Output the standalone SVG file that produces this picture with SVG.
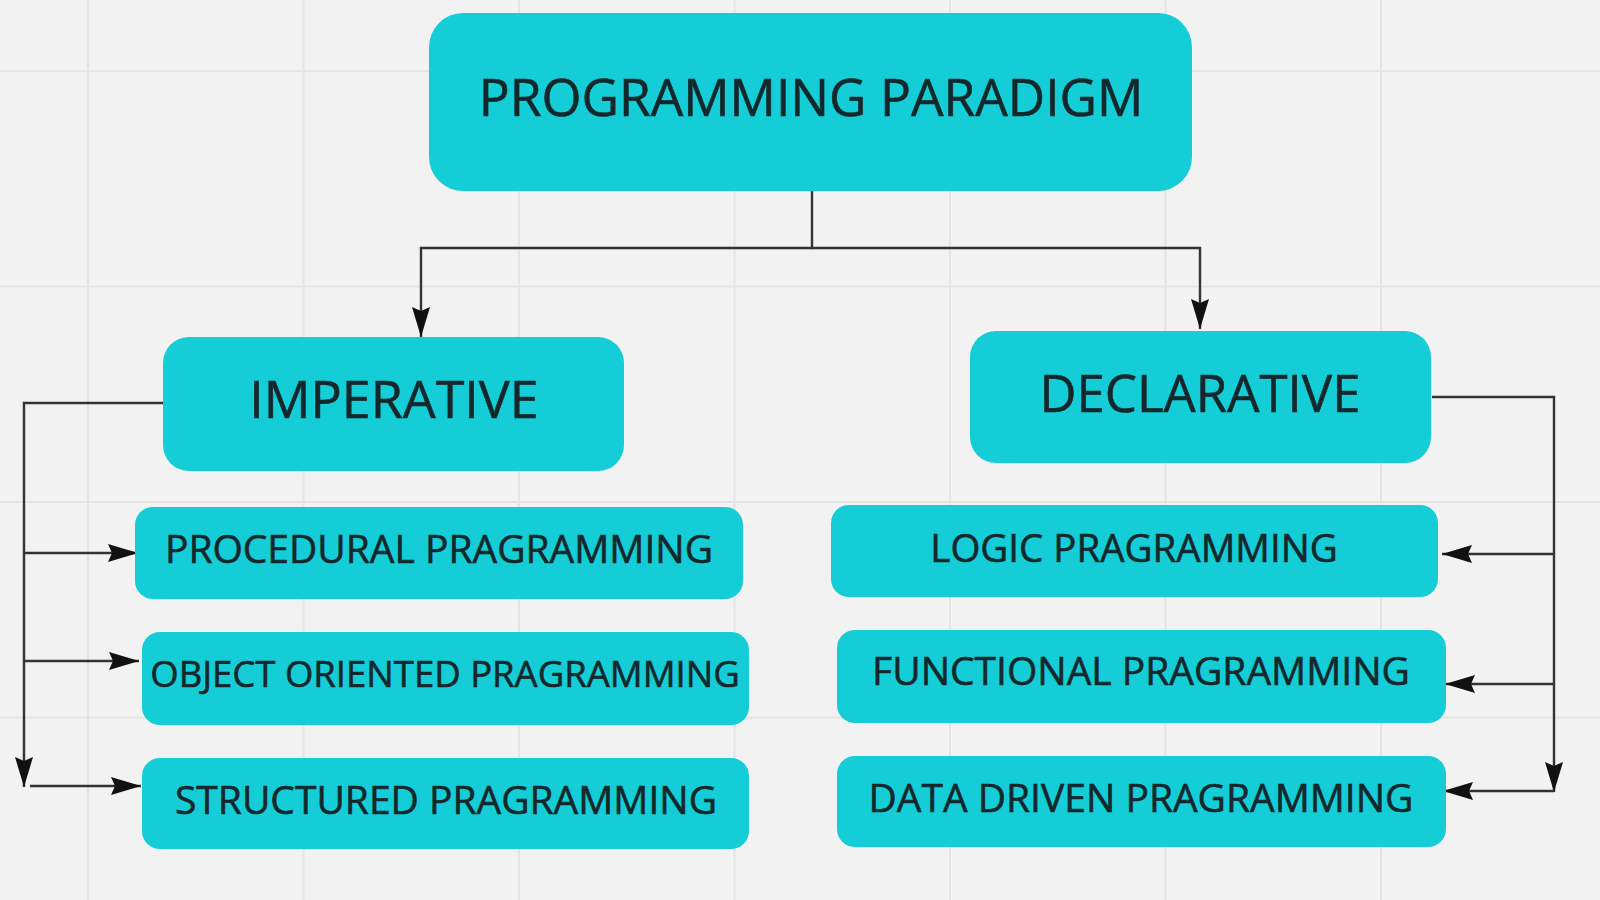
<svg xmlns="http://www.w3.org/2000/svg" width="1600" height="900" viewBox="0 0 1600 900">
  <style>
    .bg { fill: #f2f2f2; }
    .grid line { stroke: #e4e4e4; stroke-width: 2; }
    .node rect { fill: #14cdd6; }
    .node text { font-family: "Open Sans", "Liberation Sans", sans-serif; fill: #14282b; stroke: #14282b; stroke-width: 0.6; text-anchor: middle; }
    .big { font-size: 52px; }
    .small { font-size: 39px; }
    .conn path { fill: none; stroke: #333333; stroke-width: 2.4; }
  </style>
  <defs>
    <marker id="arrow" viewBox="0 0 30 18" markerWidth="30" markerHeight="18" markerUnits="userSpaceOnUse" refX="30" refY="9" orient="auto">
      <path d="M0,0 L30,9 L0,18 L4,9 Z" fill="#111"/>
    </marker>
  </defs>
  <rect class="bg" x="0" y="0" width="1600" height="900"/>
  <g class="grid">
    <line x1="88" y1="0" x2="88" y2="900"/>
    <line x1="303.5" y1="0" x2="303.5" y2="900"/>
    <line x1="519" y1="0" x2="519" y2="900"/>
    <line x1="734.5" y1="0" x2="734.5" y2="900"/>
    <line x1="950" y1="0" x2="950" y2="900"/>
    <line x1="1165.5" y1="0" x2="1165.5" y2="900"/>
    <line x1="1381" y1="0" x2="1381" y2="900"/>
    <line x1="0" y1="71" x2="1600" y2="71"/>
    <line x1="0" y1="286.5" x2="1600" y2="286.5"/>
    <line x1="0" y1="502" x2="1600" y2="502"/>
    <line x1="0" y1="717.5" x2="1600" y2="717.5"/>
  </g>
  <g class="conn">
    <path d="M812,191 V248 H421 V337" marker-end="url(#arrow)"/>
    <path d="M812,248 H1200 V329" marker-end="url(#arrow)"/>
    <path d="M163,403 H24 V787" marker-end="url(#arrow)"/>
    <path d="M24,553 H138" marker-end="url(#arrow)"/>
    <path d="M24,661 H139" marker-end="url(#arrow)"/>
    <path d="M30,786 H141" marker-end="url(#arrow)"/>
    <path d="M1432,397 H1554 V792" marker-end="url(#arrow)"/>
    <path d="M1554,554 H1442" marker-end="url(#arrow)"/>
    <path d="M1554,684 H1445" marker-end="url(#arrow)"/>
    <path d="M1554,791 H1443" marker-end="url(#arrow)"/>
  </g>
  <g id="programming-paradigm" class="node">
    <rect x="429" y="13" width="763" height="178" rx="34"/>
    <text class="big" x="811" y="116" style="font-size:51.5px">PROGRAMMING PARADIGM</text>
  </g>
  <g id="imperative" class="node">
    <rect x="163" y="337" width="461" height="134" rx="26"/>
    <text class="big" x="394" y="418">IMPERATIVE</text>
  </g>
  <g id="declarative" class="node">
    <rect x="970" y="331" width="461" height="132" rx="26"/>
    <text class="big" x="1200" y="412" style="font-size:51px">DECLARATIVE</text>
  </g>
  <g id="procedural" class="node">
    <rect x="135" y="507" width="608" height="92" rx="18"/>
    <text class="small" x="439" y="563">PROCEDURAL PRAGRAMMING</text>
  </g>
  <g id="object-oriented" class="node">
    <rect x="142" y="632" width="607" height="93" rx="18"/>
    <text class="small" x="445" y="687" style="font-size:36.5px">OBJECT ORIENTED PRAGRAMMING</text>
  </g>
  <g id="structured" class="node">
    <rect x="142" y="758" width="607" height="91" rx="18"/>
    <text class="small" x="446" y="814">STRUCTURED PRAGRAMMING</text>
  </g>
  <g id="logic" class="node">
    <rect x="831" y="505" width="607" height="92" rx="18"/>
    <text class="small" x="1134" y="562" style="font-size:38.5px">LOGIC PRAGRAMMING</text>
  </g>
  <g id="functional" class="node">
    <rect x="837" y="630" width="609" height="93" rx="18"/>
    <text class="small" x="1141" y="685">FUNCTIONAL PRAGRAMMING</text>
  </g>
  <g id="data-driven" class="node">
    <rect x="837" y="756" width="609" height="91" rx="18"/>
    <text class="small" x="1141" y="812">DATA DRIVEN PRAGRAMMING</text>
  </g>
</svg>
